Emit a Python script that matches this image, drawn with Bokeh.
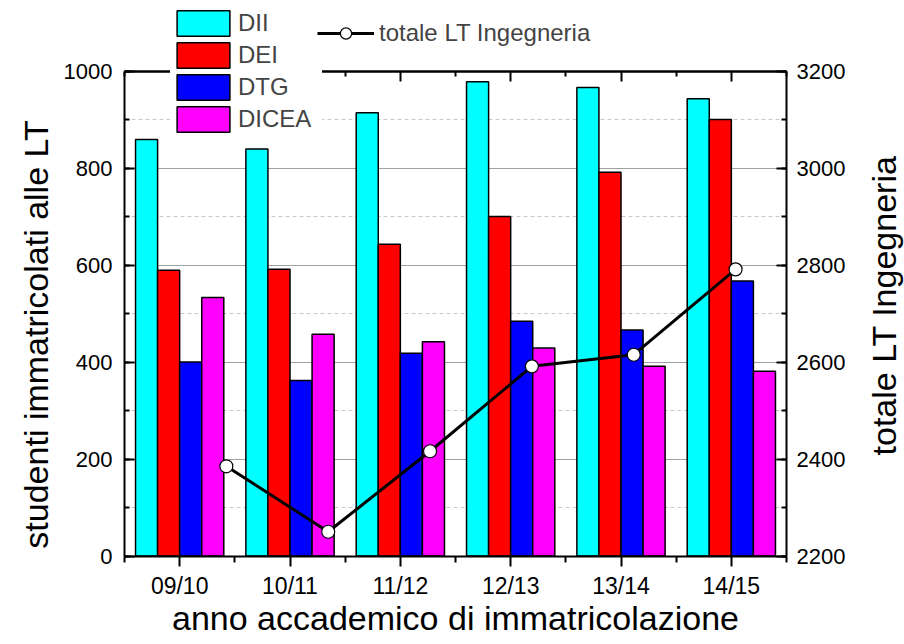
import numpy as np
from bokeh.plotting import figure
from bokeh.models import (ColumnDataSource, Range1d, LinearAxis, FixedTicker,
                          SingleIntervalTicker, Legend, LegendItem, Label)
from bokeh.transform import dodge
from bokeh.embed import file_html
from bokeh.resources import INLINE

# ---------------- data ----------------
years = ["09/10", "10/11", "11/12", "12/13", "13/14", "14/15"]
departments = ["DII", "DEI", "DTG", "DICEA"]
dii = [859, 839, 914, 978, 966, 943]
dei = [589, 591, 643, 700, 791, 900]
dtg = [400, 362, 418, 484, 466, 567]
dicea = [533, 457, 442, 429, 391, 381]
totale = [2385, 2250, 2416, 2591, 2615, 2791]
colors = ["#00FFFF", "#FF0000", "#0000FF", "#FF00FF"]
left_lim = (0, 1000)
right_lim = (2200, 3200)
x_title = "anno accademico di immatricolazione"
y_title = "studenti immatricolati alle LT"
y2_title = "totale LT Ingegneria"

FONT = "Liberation Sans"
XTICK_FS = "23px"
YTICK_FS = "22px"
LEG_FS = "24px"
TITLE_FS = "34px"

# ---------------- layout (pixels, canvas coordinates) ----------------
W, H = 904, 644
PL, PR = 124.0, 786.0        # plot-box left / right edge
PT, PB = 70.5, 555.5         # plot-box top / bottom edge
Y_TITLE_POS = (35.0, 334.0)  # centre of the left-hand title
Y2_TITLE_POS = (883.0, 305.0)  # centre of the right-hand title


def span(lo, hi, lo_px, hi_px, total_px):
    """data range covering the whole canvas, given where lo/hi must fall."""
    k = (hi - lo) / (hi_px - lo_px)
    return lo - lo_px * k, hi + (total_px - hi_px) * k


n = len(years)
xc = np.arange(n) + 0.5          # category centres on a 0..n scale
xb = np.arange(n + 1)            # category boundaries
seq = np.arange(1, n + 1)        # sequence index for the total line

x0, x1 = span(0, n, PL, PR, W)
s0, s1 = span(0, n + 0.5, PL, PR, W)
y0, y1 = span(left_lim[0], left_lim[1], H - PB, H - PT, H)
t0, t1 = span(right_lim[0], right_lim[1], H - PB, H - PT, H)


def xdata(px):
    return x0 + px * (x1 - x0) / W


def ydata(py):
    return y0 + (H - py) * (y1 - y0) / H


p = figure(width=W, height=H, x_range=Range1d(x0, x1), y_range=Range1d(y0, y1),
           output_backend="svg", toolbar_location=None,
           min_border_left=0, min_border_right=0, min_border_top=0, min_border_bottom=0)
p.extra_y_ranges = {"tot": Range1d(t0, t1)}
p.extra_x_ranges = {"seq": Range1d(s0, s1)}
p.outline_line_color = None
p.background_fill_color = "white"
p.border_fill_color = "white"

# ---------------- grid ----------------
yticker = SingleIntervalTicker(interval=200, num_minor_ticks=2)
p.xgrid.visible = False
p.ygrid.ticker = yticker
p.ygrid.bounds = left_lim
p.ygrid.cross_bounds = (0, n)
p.ygrid.grid_line_color = "#a0a0a0"
p.ygrid.grid_line_width = 1
p.ygrid.minor_grid_line_color = "#c8c8c8"
p.ygrid.minor_grid_line_dash = "4 3"

# ---------------- bars ----------------
series = [dii, dei, dtg, dicea]
offsets = (np.arange(len(departments)) - (len(departments) - 1) / 2) * 0.2
bar_renderers = []
for name, vals, col, off in zip(departments, series, colors, offsets):
    src = ColumnDataSource(dict(x=xc, top=vals))
    r = p.vbar(x=dodge("x", float(off), range=p.x_range), top="top", bottom=0, width=0.2,
               source=src, fill_color=col, line_color="black", line_width=1.5)
    bar_renderers.append(r)

# ---------------- total line ----------------
tsrc = ColumnDataSource(dict(x=seq, y=totale))
lr = p.line("x", "y", source=tsrc, x_range_name="seq", y_range_name="tot",
            line_color="black", line_width=3)
mr = p.scatter("x", "y", source=tsrc, x_range_name="seq", y_range_name="tot",
               size=13, fill_color="white", line_color="black", line_width=1.2)

# ---------------- axes ----------------
xticker = FixedTicker(ticks=list(xc), minor_ticks=list(xb))
xa = p.xaxis[0]
xa.ticker = xticker
xa.fixed_location = left_lim[0]
xa.bounds = (0, n)
xa.major_label_overrides = {float(v): lab for v, lab in zip(xc, years)}
xa.axis_label = x_title

ya = p.yaxis[0]
ya.ticker = yticker
ya.fixed_location = 0
ya.bounds = left_lim

ra = LinearAxis(y_range_name="tot", ticker=SingleIntervalTicker(interval=200, num_minor_ticks=2),
                bounds=right_lim, fixed_location=n)
p.add_layout(ra, "right")

# top edge at y = 1000: label-less axes (long ticks at centres, short at boundaries)
ta1 = LinearAxis(ticker=FixedTicker(ticks=[], minor_ticks=list(xc)),
                 fixed_location=left_lim[1], bounds=(0, n))
ta2 = LinearAxis(ticker=FixedTicker(ticks=[], minor_ticks=list(xb)),
                 fixed_location=left_lim[1], bounds=(0, n))
p.add_layout(ta1, "above")
p.add_layout(ta2, "above")
ta1.minor_tick_in, ta1.minor_tick_out = 10, 0
ta2.minor_tick_in, ta2.minor_tick_out = 5, 0

for ax in (xa, ya, ra, ta1, ta2):
    ax.axis_line_width = 2
    ax.major_tick_line_width = 2
    ax.minor_tick_line_width = 2
    ax.axis_line_color = "black"
    ax.major_tick_line_color = "black"
    ax.minor_tick_line_color = "black"

for ax in (xa, ya, ra):
    ax.major_label_text_font = FONT
    ax.major_label_text_color = "black"
    ax.axis_label_text_font = FONT
    ax.axis_label_text_font_style = "normal"
    ax.axis_label_text_font_size = TITLE_FS
    ax.axis_label_text_color = "black"
xa.major_label_text_font_size = XTICK_FS
ya.major_label_text_font_size = YTICK_FS
ra.major_label_text_font_size = YTICK_FS

xa.major_tick_out, xa.major_tick_in = 10, 0
xa.minor_tick_out, xa.minor_tick_in = 6, 0
xa.major_label_standoff = 7
xa.axis_label_standoff = -4

for ax in (ya, ra):
    ax.major_tick_out, ax.major_tick_in = 0, 10
    ax.minor_tick_out, ax.minor_tick_in = 0, 5

ya.major_label_standoff = 12
ra.major_label_standoff = 10

# vertical titles, reading bottom-to-top
for text, (px, py) in ((y_title, Y_TITLE_POS), (y2_title, Y2_TITLE_POS)):
    p.add_layout(Label(x=xdata(px), y=ydata(py), text=text, angle=90, angle_units="deg",
                       text_align="center", text_baseline="middle", text_font=FONT,
                       text_font_size=TITLE_FS, text_color="black"))

# ---------------- legends ----------------
leg1 = Legend(items=[LegendItem(label=d, renderers=[r]) for d, r in zip(departments, bar_renderers)],
              location=(170, 509), glyph_width=66, glyph_height=32, spacing=-2, padding=1,
              margin=0, label_standoff=2, label_width=84,
              background_fill_color="white", background_fill_alpha=1.0, border_line_color=None,
              label_text_font=FONT, label_text_font_size=LEG_FS)
p.add_layout(leg1)

leg2 = Legend(items=[LegendItem(label=y2_title, renderers=[lr, mr])],
              location=(317, 597), glyph_width=57, glyph_height=28, padding=0, margin=0,
              label_standoff=5, background_fill_alpha=0.0, border_line_color=None,
              label_text_font=FONT, label_text_font_size=LEG_FS)
p.add_layout(leg2)

open("out.html", "w").write(file_html(p, INLINE))
